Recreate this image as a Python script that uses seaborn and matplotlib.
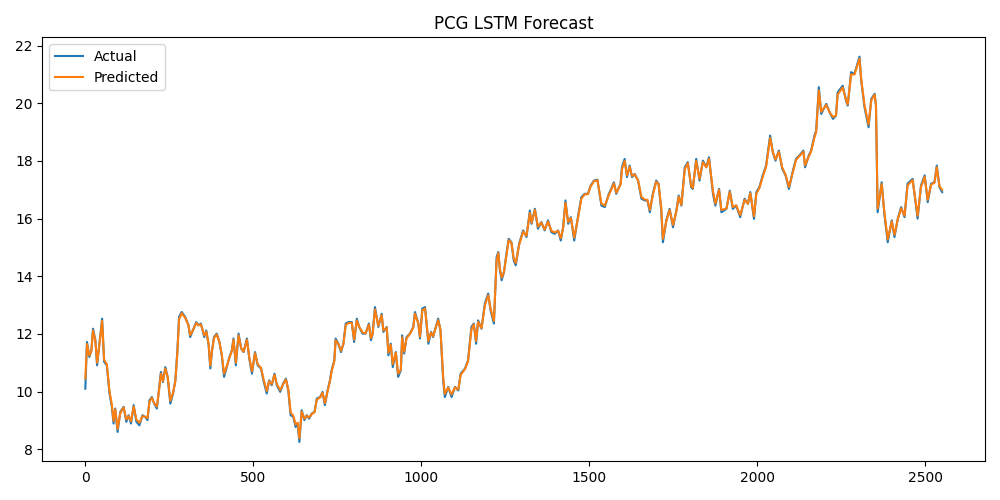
import matplotlib
matplotlib.use("Agg")
import matplotlib.pyplot as plt
import seaborn as sns
import pandas as pd

title = "PCG LSTM Forecast"
series_names = ["Actual", "Predicted"]

step = [
    0, 5, 12, 18, 23, 30, 35, 43, 50, 56,
    64, 72, 79, 84, 89, 96, 104, 114, 122, 129,
    136, 144, 152, 161, 170, 178, 185, 191, 198, 205,
    213, 219, 225, 231, 238, 245, 253, 261, 268, 274,
    279, 287, 297, 307, 312, 322, 330, 337, 344, 354,
    360, 367, 372, 377, 383, 391, 399, 406, 413, 421,
    429, 436, 441, 448, 456, 464, 471, 481, 488, 496,
    505, 513, 523, 530, 540, 547, 555, 563, 570, 580,
    589, 597, 604, 611, 619, 626, 632, 637, 644, 652,
    659, 666, 674, 682, 689, 699, 706, 713, 721, 728,
    733, 741, 745, 753, 761, 768, 775, 783, 793, 800,
    808, 815, 825, 834, 844, 850, 855, 862, 872, 882,
    887, 897, 902, 909, 915, 924, 931, 939, 943, 949,
    956, 966, 976, 981, 991, 996, 1003, 1011, 1021, 1029,
    1035, 1043, 1050, 1057, 1065, 1070, 1080, 1090, 1100, 1110,
    1117, 1130, 1139, 1149, 1156, 1163, 1169, 1179, 1189, 1199,
    1206, 1216, 1224, 1229, 1234, 1239, 1246, 1254, 1260, 1268,
    1275, 1281, 1291, 1303, 1313, 1323, 1328, 1338, 1347, 1357,
    1367, 1377, 1387, 1397, 1407, 1415, 1422, 1429, 1437, 1445,
    1455, 1466, 1476, 1486, 1496, 1504, 1514, 1524, 1536, 1546,
    1558, 1565, 1573, 1580, 1593, 1597, 1605, 1612, 1620, 1627,
    1635, 1645, 1655, 1665, 1673, 1680, 1689, 1699, 1706, 1714,
    1719, 1729, 1739, 1749, 1759, 1766, 1774, 1784, 1793, 1803,
    1808, 1818, 1828, 1838, 1848, 1856, 1868, 1875, 1886, 1893,
    1908, 1918, 1927, 1937, 1949, 1962, 1972, 1979, 1990, 1997,
    2006, 2016, 2026, 2038, 2046, 2054, 2064, 2074, 2084, 2094,
    2106, 2115, 2125, 2137, 2142, 2153, 2160, 2170, 2175, 2183,
    2190, 2205, 2215, 2225, 2234, 2239, 2254, 2264, 2269, 2279,
    2289, 2304, 2309, 2319, 2331, 2339, 2349, 2353, 2358, 2370,
    2378, 2388, 2400, 2408, 2418, 2428, 2438, 2447, 2462, 2477,
    2487, 2498, 2507, 2517, 2527, 2534, 2542, 2550,
]

actual = [
    10.10, 11.72, 11.20, 11.43, 12.18, 11.78, 10.91, 11.78, 12.53, 11.03,
    10.91, 9.93, 9.47, 8.89, 9.41, 8.60, 9.29, 9.47, 8.95, 9.18,
    8.89, 9.53, 8.95, 8.83, 9.18, 9.12, 9.01, 9.70, 9.81, 9.58,
    9.41, 10.04, 10.68, 10.33, 10.85, 10.51, 9.58, 9.93, 10.39, 11.43,
    12.59, 12.76, 12.59, 12.30, 11.89, 12.18, 12.41, 12.30, 12.36, 11.89,
    12.12, 11.61, 10.80, 11.43, 11.89, 12.01, 11.72, 11.26, 10.51, 10.85,
    11.20, 11.43, 11.84, 10.91, 12.01, 11.49, 11.37, 11.84, 11.14, 10.62,
    11.37, 10.91, 10.80, 10.39, 9.93, 10.39, 10.22, 10.62, 10.22, 9.99,
    10.28, 10.45, 10.04, 9.18, 9.12, 8.77, 8.89, 8.25, 9.35, 9.01,
    9.18, 9.06, 9.24, 9.29, 9.76, 9.81, 9.99, 9.53, 10.04, 10.39,
    10.74, 11.08, 11.84, 11.66, 11.37, 11.66, 12.36, 12.41, 12.41, 11.72,
    12.53, 12.24, 12.01, 12.01, 12.36, 11.78, 12.00, 12.93, 12.24, 12.70,
    12.07, 12.24, 11.26, 11.66, 10.85, 11.37, 10.51, 10.74, 11.95, 11.32,
    11.89, 12.01, 12.24, 12.76, 12.36, 11.84, 12.88, 12.93, 11.66, 12.07,
    11.89, 12.24, 12.53, 12.12, 10.39, 9.81, 10.16, 9.81, 10.16, 10.04,
    10.62, 10.80, 11.08, 12.24, 12.36, 11.66, 12.47, 12.18, 13.05, 13.40,
    12.82, 12.36, 14.66, 14.84, 14.20, 13.86, 14.15, 14.84, 15.30, 15.18,
    14.55, 14.38, 15.13, 15.59, 15.36, 16.28, 15.82, 16.34, 15.65, 15.88,
    15.59, 15.94, 15.53, 15.47, 15.59, 15.24, 15.70, 16.63, 15.82, 16.05,
    15.24, 16.05, 16.74, 16.86, 16.86, 17.15, 17.32, 17.35, 16.45, 16.40,
    16.86, 17.03, 17.26, 16.86, 17.21, 17.78, 18.07, 17.44, 17.84, 17.44,
    17.55, 17.32, 16.69, 16.63, 16.63, 16.22, 16.86, 17.32, 17.21, 16.28,
    15.18, 15.94, 16.34, 15.70, 16.28, 16.80, 16.45, 17.78, 17.96, 17.09,
    17.03, 18.07, 17.32, 18.01, 17.78, 18.13, 16.86, 16.45, 17.03, 16.22,
    16.34, 16.97, 16.34, 16.45, 16.05, 16.69, 16.51, 16.92, 15.99, 16.92,
    17.09, 17.50, 17.84, 18.88, 18.30, 18.01, 18.36, 17.73, 17.50, 17.03,
    17.67, 18.07, 18.19, 18.36, 17.78, 18.19, 18.36, 18.88, 19.05, 20.56,
    19.63, 19.98, 19.69, 19.46, 19.57, 20.38, 20.61, 20.09, 19.92, 21.08,
    21.02, 21.62, 20.79, 19.86, 19.17, 20.15, 20.33, 19.92, 16.22, 17.26,
    16.16, 15.18, 15.94, 15.36, 16.00, 16.40, 16.05, 17.21, 17.38, 16.00,
    17.15, 17.50, 16.57, 17.21, 17.26, 17.84, 17.09, 16.92,
]

predicted = [
    10.45, 11.65, 11.25, 11.40, 12.12, 11.75, 11.00, 11.72, 12.45, 11.10,
    10.95, 10.00, 9.55, 8.98, 9.38, 8.70, 9.25, 9.45, 9.03, 9.15,
    8.97, 9.48, 9.03, 8.92, 9.15, 9.12, 9.08, 9.65, 9.78, 9.60,
    9.48, 10.00, 10.62, 10.36, 10.80, 10.52, 9.68, 9.95, 10.36, 11.35,
    12.50, 12.72, 12.56, 12.30, 11.96, 12.16, 12.38, 12.30, 12.33, 11.95,
    12.08, 11.65, 10.90, 11.40, 11.85, 11.98, 11.72, 11.30, 10.62, 10.88,
    11.18, 11.40, 11.80, 11.00, 11.95, 11.50, 11.38, 11.80, 11.18, 10.70,
    11.33, 10.95, 10.82, 10.45, 10.02, 10.36, 10.26, 10.58, 10.26, 10.05,
    10.26, 10.42, 10.08, 9.28, 9.16, 8.86, 8.92, 8.38, 9.30, 9.06,
    9.16, 9.10, 9.22, 9.28, 9.72, 9.80, 9.96, 9.60, 10.00, 10.36,
    10.70, 11.05, 11.78, 11.65, 11.42, 11.64, 12.30, 12.38, 12.38, 11.80,
    12.47, 12.25, 12.05, 12.02, 12.32, 11.85, 12.00, 12.85, 12.28, 12.65,
    12.12, 12.22, 11.35, 11.62, 10.95, 11.35, 10.62, 10.76, 11.88, 11.38,
    11.85, 12.00, 12.22, 12.70, 12.36, 11.90, 12.82, 12.88, 11.75, 12.05,
    11.92, 12.22, 12.48, 12.15, 10.50, 9.92, 10.14, 9.90, 10.14, 10.08,
    10.58, 10.78, 11.05, 12.15, 12.33, 11.75, 12.42, 12.20, 12.98, 13.34,
    12.88, 12.45, 14.55, 14.80, 14.25, 13.95, 14.15, 14.78, 15.25, 15.17,
    14.62, 14.46, 15.08, 15.55, 15.40, 16.20, 15.86, 16.30, 15.72, 15.86,
    15.62, 15.90, 15.58, 15.52, 15.58, 15.32, 15.68, 16.55, 15.88, 16.02,
    15.34, 16.00, 16.68, 16.84, 16.85, 17.12, 17.30, 17.33, 16.52, 16.45,
    16.82, 17.00, 17.22, 16.90, 17.18, 17.70, 18.00, 17.50, 17.80, 17.48,
    17.53, 17.33, 16.75, 16.66, 16.65, 16.30, 16.82, 17.28, 17.20, 16.38,
    15.30, 15.90, 16.30, 15.78, 16.25, 16.76, 16.48, 17.72, 17.92, 17.14,
    17.06, 18.00, 17.38, 17.96, 17.78, 18.08, 16.95, 16.52, 17.00, 16.30,
    16.35, 16.93, 16.40, 16.46, 16.12, 16.65, 16.52, 16.88, 16.08, 16.86,
    17.06, 17.45, 17.80, 18.80, 18.32, 18.05, 18.32, 17.78, 17.52, 17.10,
    17.62, 18.03, 18.17, 18.32, 17.85, 18.15, 18.33, 18.82, 19.00, 20.45,
    19.70, 19.94, 19.70, 19.52, 19.58, 20.30, 20.55, 20.12, 19.96, 21.00,
    21.00, 21.55, 20.85, 19.92, 19.27, 20.10, 20.30, 19.95, 16.35, 17.20,
    16.22, 15.28, 15.90, 15.44, 15.98, 16.36, 16.10, 17.15, 17.34, 16.10,
    17.10, 17.45, 16.65, 17.18, 17.24, 17.78, 17.12, 17.00,
]

df = pd.DataFrame({"step": step, "Actual": actual, "Predicted": predicted})

fig, ax = plt.subplots(figsize=(10, 5), dpi=100)
sns.lineplot(data=df, x="step", y="Actual", ax=ax, color="#1f77b4",
             label=series_names[0], linewidth=1.5)
sns.lineplot(data=df, x="step", y="Predicted", ax=ax, color="#ff7f0e",
             label=series_names[1], linewidth=1.5)
ax.set_title(title)
ax.set_xlabel("")
ax.set_ylabel("")
ax.legend(loc="upper left")
fig.tight_layout()
fig.savefig("out.png", dpi=100)
